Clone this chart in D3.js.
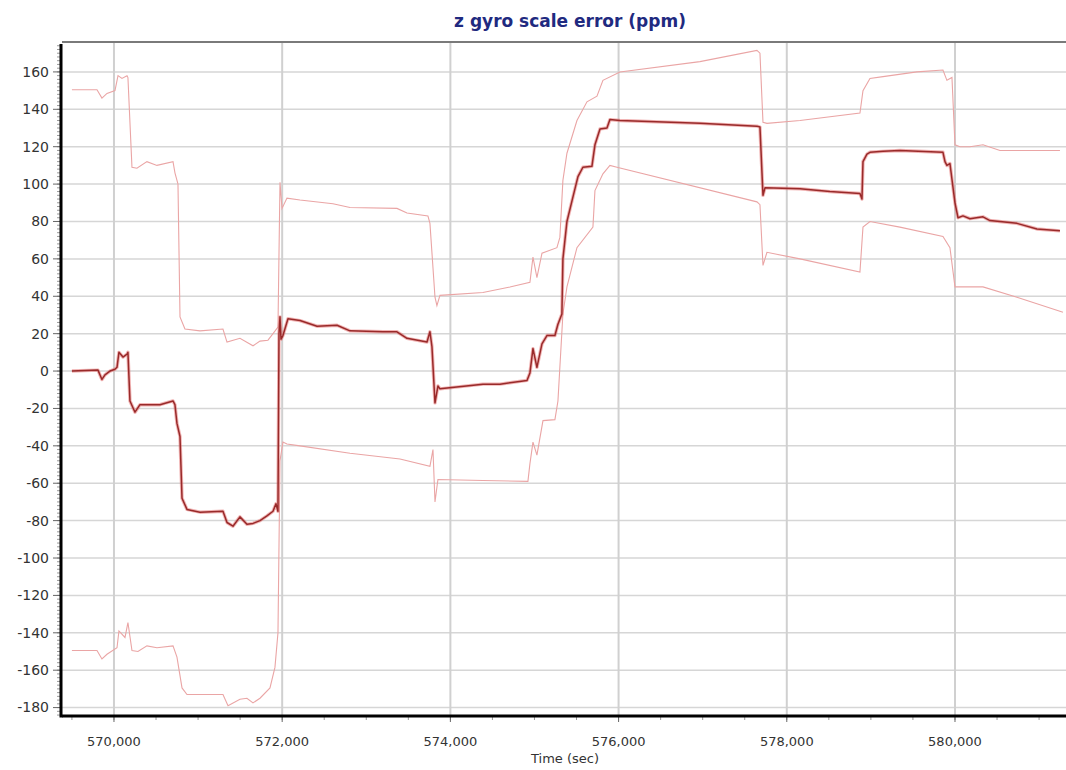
<!DOCTYPE html>
<html>
<head>
<meta charset="utf-8">
<script src="https://cdn.jsdelivr.net/npm/d3@7"></script>
<style>
    body { margin: 0; background: #fff; }
    .tickText { font-family: "DejaVu Sans", Verdana, sans-serif; fill: #333; }
</style>
</head>
<body>
<script>
// time (sec), ppm
const estimate = [
    [569500, 0], [569810, 0.5], [569833, -2], [569857, -4.5], [569893, -2], [569952, 0],
    [570012, 1], [570036, 2], [570059, 10], [570107, 7.5], [570155, 9], [570166, 10],
    [570190, -16], [570250, -22], [570309, -18], [570547, -18], [570702, -16], [570725, -18],
    [570749, -28], [570785, -35], [570809, -68], [570868, -74], [571023, -75.5], [571296, -75],
    [571344, -81], [571415, -83], [571498, -78], [571581, -82], [571653, -81.5], [571736, -80],
    [571819, -77.5], [571891, -75], [571926, -71], [571950, -75], [571962, 20], [571974, 29],
    [571986, 17], [572009, 19], [572069, 28], [572212, 27], [572414, 24], [572652, 24.5],
    [572806, 21.5], [573198, 21], [573365, 21], [573484, 17.5], [573722, 15.5], [573757, 21],
    [573781, 13], [573817, -17], [573852, -8], [573876, -9.5], [574387, -7], [574590, -7],
    [574911, -5], [574946, -1], [574982, 12], [575029, 2], [575089, 14.5], [575148, 19],
    [575243, 19], [575279, 25], [575326, 30.5], [575338, 60], [575386, 80], [575446, 91],
    [575517, 104], [575576, 109], [575683, 109.5], [575719, 121], [575779, 129.5], [575862, 130],
    [575897, 134.5], [576016, 134], [576967, 132.5], [577645, 131], [577681, 130.5], [577717, 94],
    [577741, 98], [578157, 97.5], [578513, 96], [578870, 95], [578894, 92], [578906, 112],
    [578953, 116], [578989, 117], [579144, 117.5], [579345, 118], [579857, 117], [579881, 112],
    [579904, 110], [579940, 111], [580000, 90], [580036, 82], [580095, 83], [580178, 81.5],
    [580333, 82.5], [580416, 80.5], [580737, 79], [580974, 76], [581248, 75]
];

const upperBound = [
    [569500, 150.5], [569798, 150.5], [569857, 146], [569917, 148.5], [570012, 150], [570048, 158],
    [570095, 156.5], [570155, 158], [570166, 157], [570214, 109], [570273, 108.5], [570392, 112],
    [570511, 110], [570702, 112], [570725, 106], [570761, 100], [570785, 29], [570844, 22.5],
    [571023, 21.5], [571296, 22.5], [571344, 15.5], [571498, 17.5], [571653, 13.5], [571736, 16],
    [571831, 16.5], [571891, 20], [571950, 23.5], [571974, 101], [571998, 87], [572057, 92.5],
    [572212, 91.5], [572604, 89.5], [572806, 87.5], [573365, 87], [573484, 84.5], [573733, 83],
    [573757, 79], [573817, 39.5], [573840, 35], [573876, 40.5], [574387, 42], [574708, 45],
    [574946, 47.5], [574982, 61], [575029, 50], [575089, 63], [575267, 66], [575302, 71.5],
    [575338, 102], [575386, 116.5], [575505, 134], [575624, 144], [575743, 147], [575814, 155.5],
    [576016, 160], [576967, 165.5], [577645, 171.5], [577681, 170], [577717, 133], [577764, 132.5],
    [578157, 134], [578870, 138], [578906, 150], [578989, 156.5], [579144, 157.5], [579547, 160],
    [579857, 161], [579904, 155.5], [579964, 157], [580000, 121], [580059, 120], [580178, 120],
    [580333, 121], [580535, 118], [581248, 118]
];

const lowerBound = [
    [569500, -149.5], [569798, -149.5], [569857, -154], [569917, -151.5], [570036, -148], [570059, -139],
    [570131, -142.5], [570166, -134.5], [570214, -149.5], [570285, -150], [570392, -147], [570511, -148],
    [570702, -147], [570749, -153], [570809, -169.5], [570868, -173], [571106, -173], [571296, -173],
    [571356, -179], [571498, -175.5], [571581, -175], [571653, -177.5], [571736, -175], [571855, -169.5],
    [571914, -158.5], [571950, -140], [571974, -48], [572009, -38], [572057, -39], [572212, -40],
    [572806, -44], [573401, -47], [573757, -51], [573793, -42], [573817, -70], [573852, -58],
    [574387, -58.5], [574922, -59], [574946, -49.5], [574982, -38], [575029, -45], [575101, -26.5],
    [575243, -26], [575279, -16], [575338, 30.5], [575386, 45], [575505, 66], [575695, 77],
    [575719, 96.5], [575814, 105.5], [575897, 110], [575981, 109], [577645, 90.5], [577681, 89],
    [577717, 56.5], [577764, 63.5], [578157, 60], [578870, 53], [578906, 77], [578989, 80],
    [579345, 77], [579857, 72], [579940, 66], [580000, 45], [580143, 45], [580333, 45],
    [580737, 39.5], [581284, 31.5]
];

const xTicks = [570000, 572000, 574000, 576000, 578000, 580000];
const yTicks = [-180, -160, -140, -120, -100, -80, -60, -40, -20, 0, 20, 40, 60, 80, 100, 120, 140, 160];

const chartTitle = "z gyro scale error (ppm)";
const xTitle = "Time (sec)";

makeChart();

function makeChart() {
    const width = 1066, height = 770;
    const plot = { left: 62, right: 1066, top: 42, bottom: 716 };

    const svg = d3.select("body").append("svg")
        .attr("width", width).attr("height", height);

    const x = d3.scaleLinear().domain([569382, 581320]).range([plot.left, plot.right]);
    const y = d3.scaleLinear().domain([-184.5, 176]).range([plot.bottom, plot.top]);

    //grid
    svg.append("g").selectAll("line").data(yTicks).join("line")
        .attr("x1", plot.left).attr("x2", plot.right)
        .attr("y1", d => y(d)).attr("y2", d => y(d))
        .attr("stroke", "#d6d6d6").attr("stroke-width", 1.5);
    svg.append("g").selectAll("line").data(xTicks).join("line")
        .attr("x1", d => x(d)).attr("x2", d => x(d))
        .attr("y1", plot.top).attr("y2", plot.bottom)
        .attr("stroke", "#d0d0d0").attr("stroke-width", 2);

    //top border
    svg.append("line")
        .attr("x1", plot.left).attr("x2", plot.right)
        .attr("y1", plot.top).attr("y2", plot.top)
        .attr("stroke", "#7a7a7a").attr("stroke-width", 2);

    //lines, clipped to the plot
    svg.append("clipPath").attr("id", "plotClip").append("rect")
        .attr("x", plot.left).attr("y", plot.top)
        .attr("width", plot.right - plot.left).attr("height", plot.bottom - plot.top);

    const line = d3.line().x(d => x(d[0])).y(d => y(d[1]));
    const lines = svg.append("g").attr("clip-path", "url(#plotClip)");

    lines.append("path").datum(upperBound).attr("d", line)
        .attr("fill", "none").attr("stroke", "#eaa5a5").attr("stroke-width", 1.1);
    lines.append("path").datum(lowerBound).attr("d", line)
        .attr("fill", "none").attr("stroke", "#eaa5a5").attr("stroke-width", 1.1);
    lines.append("path").datum(estimate).attr("d", line)
        .attr("fill", "none").attr("stroke", "#e36a6a").attr("stroke-opacity", 0.5).attr("stroke-width", 3.4)
        .attr("stroke-linejoin", "round");
    lines.append("path").datum(estimate).attr("d", line)
        .attr("fill", "none").attr("stroke", "#992a2a").attr("stroke-width", 1.5)
        .attr("stroke-linejoin", "round");

    //y axis
    const yMinor = d3.range(-184, 176, 2);
    svg.append("g").selectAll("line").data(yMinor).join("line")
        .attr("x1", 57).attr("x2", 60)
        .attr("y1", d => y(d)).attr("y2", d => y(d))
        .attr("stroke", "#999").attr("stroke-width", 1);
    svg.append("g").selectAll("line").data(yTicks).join("line")
        .attr("x1", 53).attr("x2", 60)
        .attr("y1", d => y(d)).attr("y2", d => y(d))
        .attr("stroke", "#666").attr("stroke-width", 1);
    svg.append("g").selectAll("text").data(yTicks).join("text")
        .attr("class", "tickText").style("font-size", "14px")
        .attr("x", 49).attr("y", d => y(d)).attr("dy", "0.35em")
        .attr("text-anchor", "end")
        .text(d => d);
    svg.append("line")
        .attr("x1", 61).attr("x2", 61)
        .attr("y1", plot.top + 2).attr("y2", plot.bottom + 1.5)
        .attr("stroke", "#000").attr("stroke-width", 3);

    //x axis
    const xMinor = d3.range(569500, 581500, 500);
    svg.append("g").selectAll("line").data(xMinor).join("line")
        .attr("x1", d => x(d)).attr("x2", d => x(d))
        .attr("y1", plot.bottom).attr("y2", plot.bottom + 4)
        .attr("stroke", "#999").attr("stroke-width", 1);
    svg.append("g").selectAll("line").data(xTicks).join("line")
        .attr("x1", d => x(d)).attr("x2", d => x(d))
        .attr("y1", plot.bottom).attr("y2", plot.bottom + 6)
        .attr("stroke", "#666").attr("stroke-width", 1);
    svg.append("g").selectAll("text").data(xTicks).join("text")
        .attr("class", "tickText").style("font-size", "13px")
        .attr("x", d => x(d)).attr("y", 746)
        .attr("text-anchor", "middle")
        .text(d3.format(","));
    svg.append("line")
        .attr("x1", plot.left).attr("x2", plot.right)
        .attr("y1", plot.bottom).attr("y2", plot.bottom)
        .attr("stroke", "#000").attr("stroke-width", 3);

    //titles
    svg.append("text")
        .attr("x", 570).attr("y", 27)
        .attr("text-anchor", "middle")
        .style("font-family", "'DejaVu Sans', Verdana, sans-serif")
        .style("font-size", "17px").style("font-weight", "bold")
        .style("fill", "#1f2a80")
        .text(chartTitle);
    svg.append("text")
        .attr("x", 565).attr("y", 763)
        .attr("text-anchor", "middle")
        .style("font-family", "'DejaVu Sans', Verdana, sans-serif")
        .style("font-size", "13px").style("fill", "#333")
        .text(xTitle);
}
</script>
</body>
</html>
